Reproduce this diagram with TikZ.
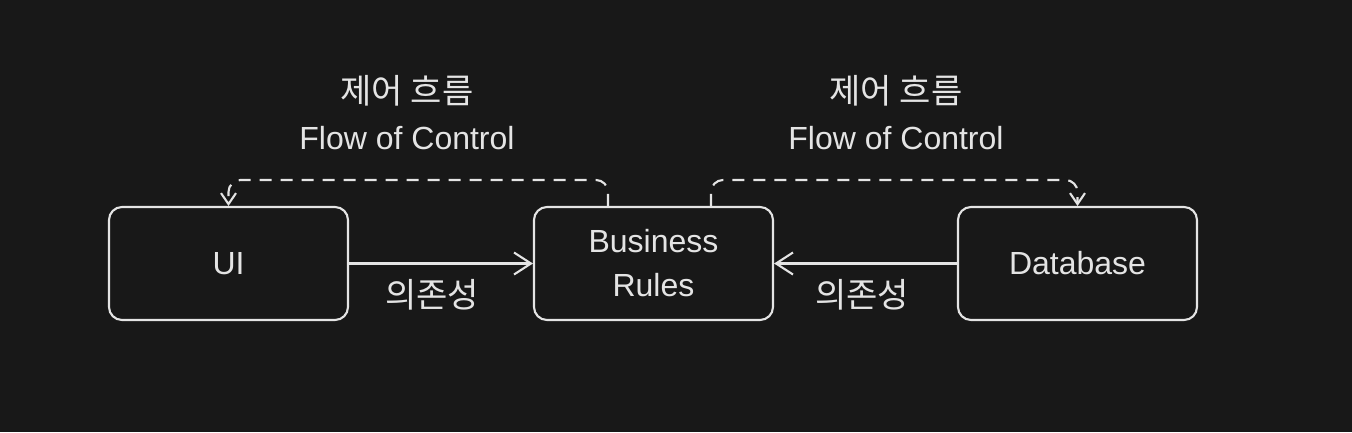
\documentclass[tikz,border=0pt]{standalone}
\usepackage{fontspec}
\setmainfont{Liberation Sans}
\newfontfamily\krfont{Noto Sans CJK KR}
\usetikzlibrary{arrows.meta, positioning}
\definecolor{bgdark}{RGB}{24,24,24}
\definecolor{inkwhite}{RGB}{228,228,228}

\begin{document}
\begin{tikzpicture}[x=1pt, y=-1pt,
    layer/.style={draw=inkwhite, line width=2.1pt, rounded corners=13pt,
                  minimum width=239pt, minimum height=113pt, align=center,
                  text=inkwhite, font=\fontsize{32}{44}\selectfont},
    dep/.style={draw=inkwhite, line width=2.1pt, -{Straight Barb[length=17pt, width=22pt, line width=2.1pt]}},
    flow/.style={draw=inkwhite, line width=2.1pt, dash pattern=on 12pt off 9pt,
                 rounded corners=12pt, -{Straight Barb[length=11pt, width=15pt, line width=2.1pt]}},
    note/.style={text=inkwhite, font=\fontsize{32}{44}\selectfont},
    krnote/.style={text=inkwhite, font=\krfont\fontsize{34}{44}\selectfont}]
    % Hintergrund
    \fill[bgdark] (0,0) rectangle (1352,432);
    \useasboundingbox (0,0) rectangle (1352,432);

    % Schichten
    \node[layer] (ui) at (228.5, 263.5) {UI};
    \node[layer] (rules) at (653.5, 263.5) {Business\\Rules};
    \node[layer] (db) at (1077.5, 263.5) {Database};

    % Abhaengigkeiten
    \draw[dep] (ui.east) -- (rules.west);
    \draw[dep] (db.west) -- (rules.east);
    \node[krnote] (depa) at (432, 295) {의존성};
    \node[krnote] (depb) at (862, 295) {의존성};

    % Kontrollfluss
    \coordinate (turnl) at (608, 180);
    \coordinate (turnr) at (711, 180);
    \draw[flow] (rules.north -| turnl) -- (turnl) -| (ui.north);
    \draw[flow] (rules.north -| turnr) -- (turnr) -| (db.north);

    \node[krnote] (ctrlka) at (407, 91) {제어 흐름};
    \node[note] (ctrlea) at (407, 138) {Flow of Control};
    \node[krnote] (ctrlkb) at (896, 91) {제어 흐름};
    \node[note] (ctrleb) at (896, 138) {Flow of Control};
  \end{tikzpicture}
\end{document}
